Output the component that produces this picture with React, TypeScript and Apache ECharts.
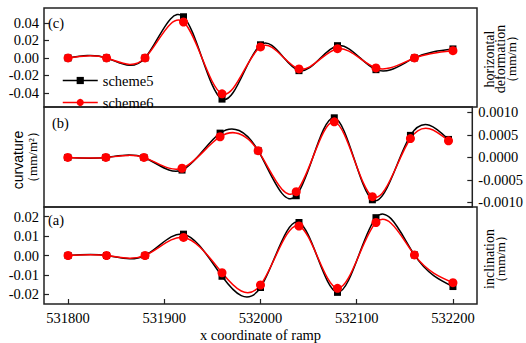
import React, { useEffect, useRef } from "react";
import * as echarts from "echarts";

// ---- data ----
const xCoords = [531800, 531840, 531880, 531920, 531960, 532000, 532040, 532080, 532120, 532160, 532200];
const xTicks = [531800, 531900, 532000, 532100, 532200];

// (c) horizontal deformation (mm/m)
const horizScheme5 = [0, 0, 0, 0.047, -0.047, 0.015, -0.0145, 0.014, -0.0134, 0, 0.0103];
const horizScheme6 = [0, 0, 0, 0.041, -0.041, 0.0126, -0.0126, 0.0106, -0.0114, 0, 0.0083];
const horizTicks = [-0.04, -0.02, 0, 0.02, 0.04];

// (b) curvature (mm/m^2)
const curvScheme5 = [0, 0, 0, -0.00028, 0.00054, 0.00015, -0.00085, 0.00088, -0.00094, 0.00049, 0.0004];
const curvScheme6 = [0, 0, 0, -0.00024, 0.00046, 0.00015, -0.00076, 0.00079, -0.00087, 0.00042, 0.00037];
const curvTicks = [-0.001, -0.0005, 0, 0.0005, 0.001];

// (a) inclination (mm/m)
const inclScheme5 = [0, 0, 0, 0.011, -0.0107, -0.0165, 0.017, -0.019, 0.0195, 0.0003, -0.016];
const inclScheme6 = [0, 0, 0, 0.0093, -0.0089, -0.0152, 0.0152, -0.0169, 0.017, 0.0003, -0.014];
const inclTicks = [-0.02, -0.01, 0, 0.01, 0.02];

const SERIF = "Liberation Serif";
const SANS = "Liberation Sans";
const FRAME = "#222";
const BLACK = "#000000";
const RED = "#ff0000";

// natural cubic spline knot slopes (curve style used by the original plot)
function splineSlopes(xs: number[], ys: number[]): number[] {
  const n = xs.length;
  const h: number[] = [];
  for (let i = 0; i < n - 1; i++) h.push(xs[i + 1] - xs[i]);
  const a = new Array(n).fill(0);
  const b = new Array(n).fill(1);
  const c = new Array(n).fill(0);
  const d = new Array(n).fill(0);
  for (let i = 1; i < n - 1; i++) {
    a[i] = h[i - 1];
    b[i] = 2 * (h[i - 1] + h[i]);
    c[i] = h[i];
    d[i] = 6 * ((ys[i + 1] - ys[i]) / h[i] - (ys[i] - ys[i - 1]) / h[i - 1]);
  }
  for (let i = 1; i < n; i++) {
    const w = a[i] / b[i - 1];
    b[i] -= w * c[i - 1];
    d[i] -= w * d[i - 1];
  }
  const M = new Array(n).fill(0);
  M[n - 1] = d[n - 1] / b[n - 1];
  for (let i = n - 2; i >= 0; i--) M[i] = (d[i] - c[i] * M[i + 1]) / b[i];
  const m: number[] = [];
  for (let i = 0; i < n - 1; i++) {
    m.push((ys[i + 1] - ys[i]) / h[i] - (h[i] * (2 * M[i] + M[i + 1])) / 6);
  }
  m.push((ys[n - 1] - ys[n - 2]) / h[n - 2] + (h[n - 2] * (M[n - 2] + 2 * M[n - 1])) / 6);
  return m;
}

function splineSeries(name: string, ys: number[], color: string, axisIdx: number, z: number) {
  return {
    type: "custom",
    name,
    xAxisIndex: axisIdx,
    yAxisIndex: axisIdx,
    silent: true,
    z,
    data: xCoords.map((x, i) => [x, ys[i]]),
    renderItem: (params: any, api: any) => {
      if (params.dataIndex !== 0) return null;
      const m = splineSlopes(xCoords, ys);
      const p0 = api.coord([xCoords[0], ys[0]]);
      let d = `M${p0[0]} ${p0[1]}`;
      for (let i = 0; i < xCoords.length - 1; i++) {
        const h = xCoords[i + 1] - xCoords[i];
        const c1 = api.coord([xCoords[i] + h / 3, ys[i] + (m[i] * h) / 3]);
        const c2 = api.coord([xCoords[i + 1] - h / 3, ys[i + 1] - (m[i + 1] * h) / 3]);
        const p = api.coord([xCoords[i + 1], ys[i + 1]]);
        d += ` C${c1[0]} ${c1[1]} ${c2[0]} ${c2[1]} ${p[0]} ${p[1]}`;
      }
      return {
        type: "path",
        shape: { pathData: d },
        style: { stroke: color, lineWidth: 1.5, fill: "none" },
      };
    },
  };
}

function markerSeries(name: string, ys: number[], color: string, axisIdx: number, symbol: string, size: number, z: number) {
  return {
    type: "line",
    name,
    xAxisIndex: axisIdx,
    yAxisIndex: axisIdx,
    z,
    data: xCoords.map((x, i) => [x, ys[i]]),
    symbol,
    symbolSize: size,
    showSymbol: true,
    showAllSymbol: true,
    itemStyle: { color },
    lineStyle: { color, width: 1.5, opacity: 0 },
  };
}

const labelFont = { fontFamily: SERIF, fontSize: 14.5, color: "#000" };

function makeYAxis(idx: number, min: number, max: number, ticks: number[], digits: number, position: string) {
  return {
    type: "value",
    gridIndex: idx,
    position,
    min,
    max,
    splitLine: { show: false },
    axisLine: { show: false, onZero: false },
    axisTick: { show: true, inside: true, length: 5, customValues: ticks, lineStyle: { color: FRAME, width: 1.2 } },
    axisLabel: {
      show: true,
      customValues: ticks,
      margin: position === "left" ? 5 : 6,
      formatter: (v: number) => v.toFixed(digits),
      ...labelFont,
    },
  };
}

export default function App() {
  const ref = useRef<HTMLDivElement>(null);

  useEffect(() => {
    if (!ref.current) return;
    const chart = echarts.init(ref.current, undefined, { renderer: "svg" });
    const gridBase = { left: 44, right: 49, show: true, borderColor: FRAME, borderWidth: 1.5, backgroundColor: "transparent" };
    const xBase = { type: "value", min: 531775, max: 532225, splitLine: { show: false } };

    const option: any = {
      animation: false,
      backgroundColor: "#ffffff",
      textStyle: { fontFamily: SERIF },
      grid: [
        { ...gridBase, top: 8, height: 99 },
        { ...gridBase, top: 107, height: 100 },
        { ...gridBase, top: 207, height: 99 },
      ],
      xAxis: [
        { ...xBase, gridIndex: 0, show: false },
        { ...xBase, gridIndex: 1, show: false },
        {
          ...xBase,
          gridIndex: 2,
          position: "bottom",
          axisLine: { show: false, onZero: false },
          axisTick: { show: true, inside: true, length: 5, customValues: xTicks, lineStyle: { color: FRAME, width: 1.2 } },
          axisLabel: { customValues: xTicks, margin: 6, formatter: (v: number) => String(v), ...labelFont },
          name: "x coordinate of ramp",
          nameLocation: "middle",
          nameGap: 23,
          nameTextStyle: { fontFamily: SERIF, fontSize: 14.5, color: "#000", verticalAlign: "top" },
        },
      ],
      yAxis: [
        makeYAxis(0, -0.056, 0.057, horizTicks, 2, "left"),
        makeYAxis(1, -0.0011, 0.00112, curvTicks, 4, "right"),
        makeYAxis(2, -0.025, 0.025, inclTicks, 2, "left"),
      ],
      legend: {
        data: ["scheme5", "scheme6"],
        orient: "vertical",
        left: 57,
        top: 68,
        itemWidth: 35,
        itemHeight: 9,
        itemGap: 7,
        lineStyle: { opacity: 1, width: 1.5 },
        textStyle: { fontFamily: SERIF, fontSize: 14.5, color: "#000" },
        selectedMode: false,
      },
      series: [
        splineSeries("c5", horizScheme5, BLACK, 0, 2),
        splineSeries("c6", horizScheme6, RED, 0, 3),
        markerSeries("scheme5", horizScheme5, BLACK, 0, "rect", 7, 4),
        markerSeries("scheme6", horizScheme6, RED, 0, "circle", 9, 5),

        splineSeries("b5", curvScheme5, BLACK, 1, 2),
        splineSeries("b6", curvScheme6, RED, 1, 3),
        markerSeries("scheme5", curvScheme5, BLACK, 1, "rect", 7, 4),
        markerSeries("scheme6", curvScheme6, RED, 1, "circle", 9, 5),

        splineSeries("a5", inclScheme5, BLACK, 2, 2),
        splineSeries("a6", inclScheme6, RED, 2, 3),
        markerSeries("scheme5", inclScheme5, BLACK, 2, "rect", 7, 4),
        markerSeries("scheme6", inclScheme6, RED, 2, "circle", 9, 5),
      ],
      graphic: [
        { type: "text", x: 48, y: 23, style: { text: "(c)", font: `14.5px ${SERIF}`, fill: "#000", verticalAlign: "middle" } },
        { type: "text", x: 52, y: 123, style: { text: "(b)", font: `14.5px ${SERIF}`, fill: "#000", verticalAlign: "middle" } },
        { type: "text", x: 48, y: 220, style: { text: "(a)", font: `14.5px ${SERIF}`, fill: "#000", verticalAlign: "middle" } },

        { type: "text", x: 489.5, y: 59, rotation: Math.PI / 2, style: { text: "horizontal", font: `14px ${SERIF}`, fill: "#000", align: "center", verticalAlign: "middle" } },
        { type: "text", x: 500.5, y: 59, rotation: Math.PI / 2, style: { text: "deformation", font: `14px ${SERIF}`, fill: "#000", align: "center", verticalAlign: "middle" } },
        { type: "text", x: 511, y: 59, rotation: Math.PI / 2, style: { text: "（mm/m）", font: `13px ${SERIF}`, fill: "#000", align: "center", verticalAlign: "middle" } },

        { type: "text", x: 18, y: 160, rotation: Math.PI / 2, style: { text: "curvature", font: `14px ${SANS}`, fill: "#000", align: "center", verticalAlign: "middle" } },
        { type: "text", x: 32, y: 157, rotation: Math.PI / 2, style: { text: "（mm/m²）", font: `13px ${SERIF}`, fill: "#000", align: "center", verticalAlign: "middle" } },

        { type: "text", x: 489.5, y: 259, rotation: Math.PI / 2, style: { text: "inclination", font: `14px ${SERIF}`, fill: "#000", align: "center", verticalAlign: "middle" } },
        { type: "text", x: 500.5, y: 259, rotation: Math.PI / 2, style: { text: "（mm/m）", font: `13px ${SERIF}`, fill: "#000", align: "center", verticalAlign: "middle" } },
      ],
    };
    chart.setOption(option);
    return () => chart.dispose();
  }, []);

  return (
    <div
      ref={ref}
      style={{ position: "fixed", left: 0, top: 0, width: 526, height: 343, background: "#fff" }}
    />
  );
}
